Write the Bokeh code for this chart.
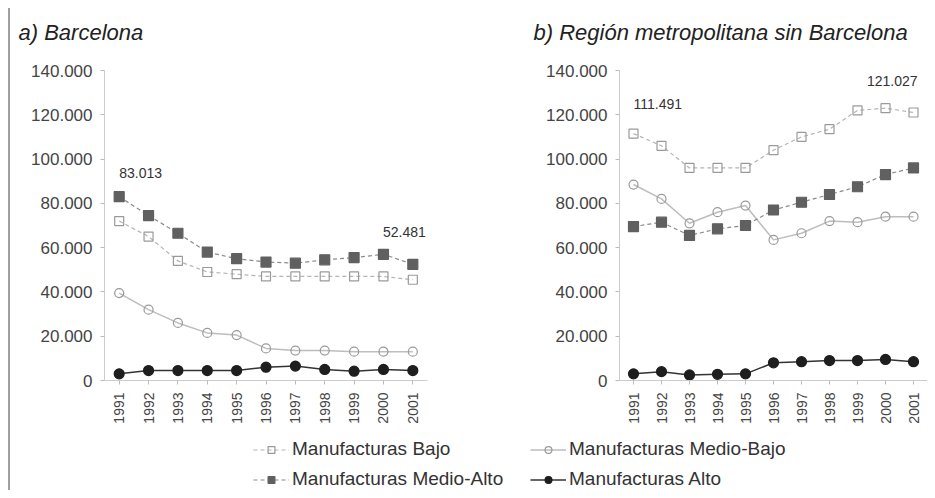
import math
from bokeh.plotting import figure
from bokeh.models import (Range1d, FixedTicker, CustomJSTickFormatter, Legend,
                          LegendItem, Label)
from bokeh.layouts import row, column
from bokeh.embed import file_html
from bokeh.resources import INLINE

# ---------------- data ----------------
years = [1991, 1992, 1993, 1994, 1995, 1996, 1997, 1998, 1999, 2000, 2001]
y_ticks = [0, 20000, 40000, 60000, 80000, 100000, 120000, 140000]

series_names = ["Manufacturas Bajo", "Manufacturas Medio-Bajo",
                "Manufacturas Medio-Alto", "Manufacturas Alto"]

# a) Barcelona
bcn_bajo = [72000, 65000, 54000, 49000, 48000, 47000, 47000, 47000, 47000, 47000, 45500]
bcn_medio_bajo = [39500, 32000, 26000, 21500, 20500, 14500, 13500, 13500, 13000, 13000, 13000]
bcn_medio_alto = [83013, 74500, 66500, 58000, 55000, 53500, 53000, 54500, 55500, 57000, 52481]
bcn_alto = [3000, 4500, 4500, 4500, 4500, 6000, 6500, 5000, 4200, 5000, 4500]

# b) Región metropolitana sin Barcelona
rm_bajo = [111491, 106000, 96000, 96000, 96000, 104000, 110000, 113500, 122000, 123000, 121027]
rm_medio_bajo = [88500, 82000, 71000, 76000, 79000, 63500, 66500, 72000, 71500, 74000, 74000]
rm_medio_alto = [69500, 71500, 65500, 68500, 70000, 77000, 80500, 84000, 87500, 93000, 96000]
rm_alto = [3000, 4000, 2500, 2800, 3000, 8000, 8500, 9000, 9000, 9500, 8500]

titles = ["a) Barcelona", "b) Región metropolitana sin Barcelona"]

FONT = "Liberation Sans"

STYLES = [
    dict(line_color="#b4b4b4", line_dash="4 3", line_width=1.2,
         marker="square", m_fill=None, m_line="#9a9a9a", size=9),
    dict(line_color="#bdbdbd", line_dash="solid", line_width=1.5,
         marker="circle", m_fill=None, m_line="#9a9a9a", size=9),
    dict(line_color="#8a8a8a", line_dash="4 3", line_width=1.2,
         marker="square", m_fill="#606060", m_line="#606060", size=10),
    dict(line_color="#333333", line_dash="solid", line_width=1.5,
         marker="circle", m_fill="#1e1e1e", m_line="#1e1e1e", size=10),
]

TOTAL_W = 917


def fmt(v):
    return f"{v:,}".replace(",", ".")


def draw_series(p, x, y, st):
    l = p.line(x, y, line_color=st["line_color"], line_dash=st["line_dash"],
               line_width=st["line_width"])
    s = p.scatter(x, y, marker=st["marker"], size=st["size"],
                  fill_color=st["m_fill"] if st["m_fill"] else "white",
                  fill_alpha=1 if st["m_fill"] else 0,
                  line_color=st["m_line"], line_width=1.2)
    return [l, s]


def blank_fig(width, height):
    f = figure(width=width, height=height, x_range=Range1d(0, 1), y_range=Range1d(0, 1),
               output_backend="svg", toolbar_location=None,
               x_axis_type=None, y_axis_type=None,
               min_border_left=0, min_border_right=0, min_border_top=0, min_border_bottom=0)
    f.outline_line_color = None
    f.xgrid.visible = False
    f.ygrid.visible = False
    return f


def make_panel(data, width, border_left, border_right, notes):
    p = figure(width=width, height=374, x_range=Range1d(1990.5, 2001.5),
               y_range=Range1d(y_ticks[0], y_ticks[-1]),
               output_backend="svg", toolbar_location=None,
               min_border_left=border_left, min_border_right=border_right,
               min_border_top=8, min_border_bottom=56)
    p.outline_line_color = None
    p.xgrid.visible = False
    p.ygrid.visible = False

    for ax in (p.xaxis[0], p.yaxis[0]):
        ax.axis_line_color = "#cccccc"
        ax.major_tick_line_color = "#bbbbbb"
        ax.major_tick_out = 4
        ax.major_tick_in = 0
        ax.minor_tick_line_color = None
        ax.major_label_text_font = FONT
        ax.major_label_text_color = "#444444"
    p.xaxis.ticker = FixedTicker(ticks=years)
    p.xaxis.major_label_orientation = math.pi / 2
    p.xaxis.major_label_text_font_size = "14px"
    p.xaxis.major_label_standoff = 8
    p.yaxis.ticker = FixedTicker(ticks=y_ticks)
    p.yaxis.major_label_text_font_size = "17px"
    p.yaxis.major_label_standoff = 8
    p.yaxis.formatter = CustomJSTickFormatter(code="""
        return Math.round(tick).toString().replace(/\\B(?=(\\d{3})+(?!\\d))/g, ".");
    """)

    for vals, st in zip(data, STYLES):
        draw_series(p, years, vals, st)

    for (xv, yv, align, xo, yo) in notes:
        p.add_layout(Label(x=xv, y=yv, text=fmt(yv), text_align=align,
                           text_baseline="middle", x_offset=xo, y_offset=yo,
                           text_font=FONT, text_font_size="14px",
                           text_color="#333333"))
    return p


# ---------------- header with panel titles ----------------
head = blank_fig(TOTAL_W, 54)
for t, tx in zip(titles, [8, 523]):
    head.add_layout(Label(x=tx, y=30, x_units="screen", y_units="screen",
                          text=t, text_align="left", text_baseline="middle",
                          text_font=FONT, text_font_style="italic",
                          text_font_size="22px", text_color="#222222"))

# ---------------- panels ----------------
p1 = make_panel([bcn_bajo, bcn_medio_bajo, bcn_medio_alto, bcn_alto],
                462, 94, 45,
                [(years[0], bcn_medio_alto[0], "left", 0, 24),
                 (years[-1], bcn_medio_alto[-1], "right", 13, 32)])
p2 = make_panel([rm_bajo, rm_medio_bajo, rm_medio_alto, rm_alto],
                TOTAL_W - 462, 147, 0,
                [(years[0], rm_bajo[0], "left", 0, 30),
                 (years[-1], rm_bajo[-1], "right", 4, 32)])

# ---------------- legend ----------------
leg = blank_fig(TOTAL_W, 54)
# legend renderers use the series data but lie outside the (0..1) view, so only
# their legend glyphs are visible
leg_rends = [draw_series(leg, years, vals, st)
             for vals, st in zip([bcn_bajo, bcn_medio_bajo, bcn_medio_alto, bcn_alto], STYLES)]


def make_legend(idx, loc):
    lg = Legend(items=[LegendItem(label=series_names[i], renderers=leg_rends[i]) for i in idx],
                location=loc, orientation="vertical",
                label_text_font=FONT, label_text_font_size="19px",
                label_text_color="#333333",
                glyph_width=36, glyph_height=17, label_height=17,
                spacing=8, padding=0, margin=0, label_standoff=3,
                border_line_color=None, background_fill_alpha=0)
    leg.add_layout(lg)


make_legend([0, 2], (243, 0))
make_legend([1, 3], (520, 0))

layout = column(head, row(p1, p2), leg, margin=(8, 0, 0, 8),
                styles={"border-left": "2px solid #a0a0a0"})

open("out.html", "w").write(file_html(layout, INLINE))
